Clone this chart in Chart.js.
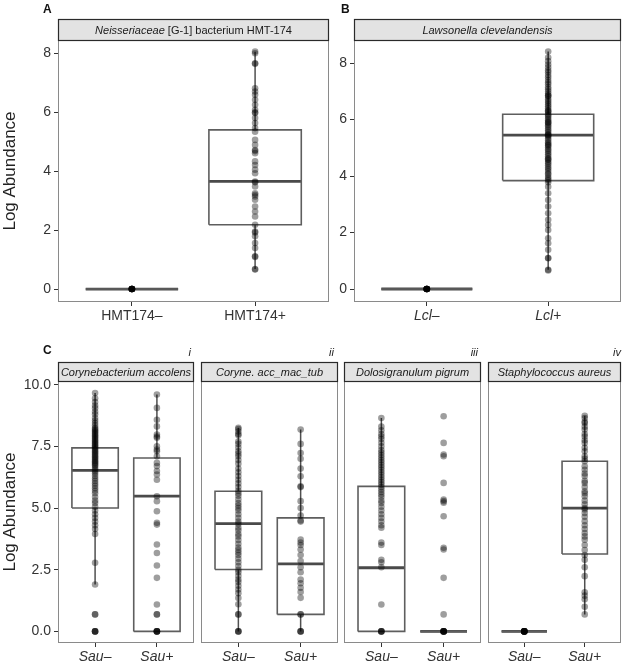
<!DOCTYPE html>
<html>
<head>
<meta charset="utf-8">
<script src="https://cdn.jsdelivr.net/npm/chart.js@4.4.0/dist/chart.umd.min.js"></script>
<style>
  body { margin: 0; background: #fff; }
  #page { position: relative; width: 625px; height: 664px; overflow: hidden; font-family: "Liberation Sans", Arial, sans-serif; }
  #page canvas { position: absolute; left: 0; top: 0; }
  .tag { position: absolute; font-weight: bold; font-size: 12px; line-height: 12px; color: #111; }
  .num { position: absolute; font-style: italic; font-size: 11px; line-height: 11px; color: #222; text-align: right; }
</style>
</head>
<body>
<div id="page">
  <canvas id="cA" width="625" height="664"></canvas>
  <canvas id="cB" width="625" height="664"></canvas>
  <canvas id="c1" width="625" height="664"></canvas>
  <canvas id="c2" width="625" height="664"></canvas>
  <canvas id="c3" width="625" height="664"></canvas>
  <canvas id="c4" width="625" height="664"></canvas>
  <div class="tag" style="left:43px;top:3px">A</div>
  <div class="tag" style="left:341px;top:3px">B</div>
  <div class="tag" style="left:43px;top:344px">C</div>
  <div class="num" style="right:434px;top:347px">i</div>
  <div class="num" style="right:291px;top:347px">ii</div>
  <div class="num" style="right:147px;top:347px">iii</div>
  <div class="num" style="right:4px;top:347px">iv</div>
</div>
<script>
// ---- data ----
// box stats are [lower whisker, q1, median, q3, upper whisker]
const abTicks = [0, 2, 4, 6, 8];
const cTicks = [0, 2.5, 5, 7.5, 10];

const hmtNames = ['HMT174–', 'HMT174+'];
const hmtNeg = [0, 0, 0, 0, 0, 0, 0, 0, 0, 0];
const hmtPos = [8.06, 8.0, 7.66, 7.64, 6.81, 6.7, 6.59, 6.42, 6.25, 6.08, 6.0, 5.97, 5.8, 5.63, 5.46, 5.34,
  5.06, 4.89, 4.72, 4.68, 4.61, 4.33, 4.21, 4.05, 3.93, 3.65, 3.62, 3.48, 3.25, 3.2, 3.14, 3.03, 2.8,
  2.63, 2.46, 2.18, 1.95, 1.92, 1.79, 1.56, 1.39, 1.11, 1.09, 0.66, 0.68];
const hmtBoxes = [[0, 0, 0, 0, 0], [0.68, 2.18, 3.65, 5.4, 8.05]];

const lclNames = ['Lcl–', 'Lcl+'];
const lclNeg = [0, 0, 0, 0, 0, 0, 0, 0, 0, 0];
const lclPos = [0.66, 0.68, 1.09, 1.1, 1.39, 1.62, 1.8, 2.09, 2.27, 2.45, 2.68, 2.92, 3.15, 3.39, 3.62,
  3.78, 3.85, 3.9, 3.97, 4.05, 4.1, 4.18, 4.25, 4.3, 4.38, 4.45, 4.5, 4.57, 4.6, 4.63, 4.7, 4.77, 4.83,
  4.9, 4.95, 5.02, 5.08, 5.1, 5.15, 5.2, 5.27, 5.33, 5.4, 5.45, 5.45, 5.5, 5.56, 5.62, 5.68, 5.75, 5.8,
  5.86, 5.9, 5.92, 5.98, 6.03, 6.1, 6.15, 6.2, 6.27, 6.3, 6.33, 6.4, 6.47, 6.53, 6.6, 6.66, 6.72, 6.8,
  6.85, 6.85, 6.92, 7.0, 7.08, 7.15, 7.25, 7.32, 7.4, 7.5, 7.58, 7.68, 7.75, 7.85, 7.95, 8.07, 8.2, 8.41];
const lclBoxes = [[0, 0, 0, 0, 0], [0.68, 3.84, 5.45, 6.19, 8.41]];

const sauNames = ['Sau–', 'Sau+'];

const accNeg = [9.66, 9.45, 9.3, 9.15, 9.05, 8.9, 8.8, 8.65, 8.55, 8.45, 8.35, 8.25, 8.2, 8.15, 8.1, 8.05,
  8.0, 7.95, 7.9, 7.85, 7.8, 7.75, 7.7, 7.65, 7.6, 7.55, 7.5, 7.45, 7.4, 7.35, 7.3, 7.25, 7.2, 7.15, 7.1,
  7.05, 7.0, 6.95, 6.9, 6.85, 6.8, 6.75, 6.7, 6.62, 6.55, 6.48, 6.4, 6.3, 6.2, 6.1, 6.0, 5.9, 5.8, 5.7,
  5.6, 5.45, 5.3, 5.2, 5.05, 4.9, 4.75, 4.6, 4.45, 4.3, 4.15, 3.95, 2.78, 1.9, 0.69, 0.69, 0, 0, 0, 0];
const accPos = [9.6, 9.06, 8.58, 8.31, 7.98, 7.9, 7.85, 7.5, 7.37, 7.3, 7.1, 6.83, 6.7, 6.5, 6.36, 6.15,
  5.48, 5.28, 4.87, 4.4, 4.33, 3.52, 3.18, 2.67, 2.17, 1.09, 0.69, 0.69, 0, 0, 0, 0, 0];
const accBoxes = [[1.9, 5.0, 6.53, 7.44, 9.66], [0, 0, 5.48, 7.03, 9.6]];

const amtNeg = [8.25, 8.2, 8.1, 8.0, 7.95, 7.7, 7.6, 7.45, 7.3, 7.2, 7.1, 6.95, 6.8, 6.6, 6.45, 6.3, 6.15,
  6.0, 5.85, 5.7, 5.6, 5.5, 5.35, 5.2, 5.1, 5.0, 4.9, 4.75, 4.6, 4.45, 4.35, 4.2, 4.1, 3.95, 3.85, 3.7,
  3.55, 3.4, 3.3, 3.2, 3.1, 2.95, 2.8, 2.65, 2.5, 2.4, 2.25, 2.1, 2.0, 1.85, 1.7, 1.55, 1.35, 1.1, 0.69,
  0.69, 0, 0, 0];
const amtPos = [8.18, 7.6, 7.23, 7.0, 6.6, 6.29, 5.88, 5.85, 5.28, 5.0, 4.7, 4.5, 4.45, 3.72, 3.6, 3.5,
  3.32, 3.1, 2.85, 2.6, 2.4, 2.1, 1.95, 1.77, 1.6, 1.36, 0.69, 0.69, 0, 0, 0];
const amtBoxes = [[0, 2.51, 4.37, 5.68, 8.25], [0, 0.69, 2.74, 4.6, 8.18]];

const dpiNeg = [8.65, 8.3, 8.15, 8.0, 7.9, 7.8, 7.65, 7.5, 7.35, 7.25, 7.15, 7.05, 6.95, 6.85, 6.75, 6.65,
  6.55, 6.45, 6.35, 6.25, 6.15, 6.05, 5.95, 5.85, 5.75, 5.65, 5.55, 5.45, 5.3, 5.2, 5.05, 4.9, 4.75, 4.6,
  4.45, 4.3, 4.2, 3.6, 3.5, 2.9, 2.8, 2.6, 1.09, 0, 0, 0, 0];
const dpiPos = [8.72, 7.64, 7.17, 7.1, 6.02, 5.34, 5.28, 5.22, 4.67, 3.39, 3.32, 2.17, 0.69, 0, 0, 0, 0, 0, 0, 0];
const dpiBoxes = [[0, 0, 2.58, 5.88, 8.65], [0, 0, 0, 0, 0]];

const sauNeg = [0, 0, 0, 0, 0, 0, 0, 0, 0, 0];
const sauPos = [8.74, 8.65, 8.5, 8.45, 8.3, 8.18, 8.0, 7.9, 7.75, 7.64, 7.44, 7.3, 7.1, 7.0, 6.9, 6.69,
  6.55, 6.4, 6.3, 6.1, 6.02, 5.85, 5.68, 5.6, 5.48, 5.3, 5.15, 5.0, 4.94, 4.8, 4.65, 4.47, 4.3, 4.15,
  3.99, 3.85, 3.72, 3.5, 3.3, 3.1, 2.9, 2.6, 2.24, 1.59, 1.45, 1.3, 1.0, 0.69];
const sauBoxes = [[0, 0, 0, 0, 0], [0.69, 3.14, 5.0, 6.9, 8.74]];

// ---- look ----
const FONT = '"Liberation Sans", Arial, Helvetica, sans-serif';
const HW = 0.375;        // half box width in category units
const INK = '#333';

const panels = [
  { id: 'cA', area: [58, 40, 329, 302], stripH: 21, strip: [['Neisseriaceae', true], [' [G-1] bacterium HMT-174', false]],
    names: hmtNames, italic: false, groups: [hmtNeg, hmtPos], boxes: hmtBoxes,
    yMin: -0.44, yMax: 8.45, ticks: abTicks, dec: 0, yw: 58, title: true },
  { id: 'cB', area: [354, 40, 622, 302], stripH: 21, strip: [['Lawsonella clevelandensis', true]],
    names: lclNames, italic: true, groups: [lclNeg, lclPos], boxes: lclBoxes,
    yMin: -0.46, yMax: 8.82, ticks: abTicks, dec: 0, yw: 24, title: false },
  { id: 'c1', area: [58, 381, 194, 643], stripH: 19, strip: [['Corynebacterium accolens', true]],
    names: sauNames, italic: true, groups: [accNeg, accPos], boxes: accBoxes,
    yMin: -0.47, yMax: 10.15, ticks: cTicks, dec: 1, yw: 58, title: true },
  { id: 'c2', area: [201, 381, 338, 643], stripH: 19, strip: [['Coryne. acc_mac_tub', true]],
    names: sauNames, italic: true, groups: [amtNeg, amtPos], boxes: amtBoxes,
    yMin: -0.47, yMax: 10.15, ticks: cTicks, dec: 1, yw: 0, title: false },
  { id: 'c3', area: [344, 381, 481, 643], stripH: 19, strip: [['Dolosigranulum pigrum', true]],
    names: sauNames, italic: true, groups: [dpiNeg, dpiPos], boxes: dpiBoxes,
    yMin: -0.47, yMax: 10.15, ticks: cTicks, dec: 1, yw: 0, title: false },
  { id: 'c4', area: [488, 381, 622, 643], stripH: 19, strip: [['Staphylococcus aureus', true]],
    names: sauNames, italic: true, groups: [sauNeg, sauPos], boxes: sauBoxes,
    yMin: -0.47, yMax: 10.15, ticks: cTicks, dec: 1, yw: 0, title: false }
];

const framePlugin = {
  id: 'frame',
  afterDraw(chart, args, opts) {
    const { ctx, chartArea: a } = chart;
    ctx.save();
    ctx.strokeStyle = '#8a8a8a';
    ctx.lineWidth = 1;
    ctx.strokeRect(a.left + 0.5, a.top + 0.5, a.width - 1, a.height - 1);
    const h = opts.stripH;
    ctx.fillStyle = '#e3e3e3';
    ctx.fillRect(a.left, a.top - h, a.width, h);
    ctx.strokeStyle = '#2a2a2a';
    ctx.lineWidth = 1.2;
    ctx.strokeRect(a.left + 0.5, a.top - h + 0.5, a.width - 1, h);
    // strip label, possibly mixed italic/upright
    const fontOf = it => (it ? 'italic ' : '') + '11px ' + FONT;
    let total = 0;
    opts.strip.forEach(([t, it]) => { ctx.font = fontOf(it); total += ctx.measureText(t).width; });
    let x = (a.left + a.right) / 2 - total / 2;
    ctx.fillStyle = '#1a1a1a';
    ctx.textBaseline = 'middle';
    ctx.textAlign = 'left';
    opts.strip.forEach(([t, it]) => {
      ctx.font = fontOf(it);
      ctx.fillText(t, x, a.top - h / 2 + 1);
      x += ctx.measureText(t).width;
    });
    ctx.restore();
  }
};

function lineSet(data, width, color) {
  return { type: 'line', data, borderColor: color, borderWidth: width, pointRadius: 0,
    tension: 0, fill: false, spanGaps: false, order: 1 };
}

function buildDatasets(p) {
  const sets = [];
  p.groups.forEach((vals, i) => {
    sets.push({ type: 'scatter', data: vals.map(v => ({ x: i + 1, y: v })), pointRadius: 3.3,
      pointBackgroundColor: 'rgba(0,0,0,0.38)', pointBorderWidth: 0, order: 0 });
  });
  const rect = [], med = [], whisk = [];
  p.boxes.forEach((b, i) => {
    const x = i + 1;
    const [lo, q1, md, q3, hi] = b;
    rect.push({ x: x - HW, y: q1 }, { x: x + HW, y: q1 }, { x: x + HW, y: q3 }, { x: x - HW, y: q3 },
      { x: x - HW, y: q1 }, { x: x, y: null });
    med.push({ x: x - HW, y: md }, { x: x + HW, y: md }, { x: x, y: null });
    whisk.push({ x: x, y: lo }, { x: x, y: q1 }, { x: x, y: null }, { x: x, y: q3 }, { x: x, y: hi }, { x: x, y: null });
  });
  sets.push(lineSet(whisk, 1.5, '#505050'));
  sets.push(lineSet(rect, 1.6, '#5e5e5e'));
  sets.push(lineSet(med, 2.8, '#4a4a4a'));
  return sets;
}

const XH = 20;

panels.forEach(p => {
  const [L, T, R, B] = p.area;
  const grid = { drawOnChartArea: false, drawTicks: true, tickLength: 4, color: INK, lineWidth: 1 };
  new Chart(document.getElementById(p.id), {
    type: 'scatter',
    data: { datasets: buildDatasets(p) },
    options: {
      responsive: false,
      animation: false,
      events: [],
      layout: { padding: { left: L - p.yw, top: T, right: 625 - R, bottom: 664 - B - XH } },
      plugins: { legend: { display: false }, tooltip: { enabled: false }, frame: { stripH: p.stripH, strip: p.strip } },
      scales: {
        x: {
          type: 'linear', min: 0.4, max: 2.6,
          afterBuildTicks: s => { s.ticks = [{ value: 1 }, { value: 2 }]; },
          afterFit: s => { s.height = XH; },
          grid, border: { display: false },
          ticks: {
            autoSkip: false, maxRotation: 0, padding: 2, color: INK,
            font: { family: FONT, size: 14, style: p.italic ? 'italic' : 'normal' },
            callback: v => p.names[Math.round(v) - 1]
          }
        },
        y: {
          type: 'linear', min: p.yMin, max: p.yMax, display: p.yw > 0,
          afterBuildTicks: s => { s.ticks = p.ticks.map(v => ({ value: v })); },
          afterFit: s => { s.width = p.yw; },
          grid, border: { display: false },
          title: { display: p.title, text: 'Log Abundance', color: '#222', padding: 0,
            font: { family: FONT, size: 17 } },
          ticks: { padding: 3, color: INK, font: { family: FONT, size: 14 },
            callback: v => v.toFixed(p.dec) }
        }
      }
    },
    plugins: [framePlugin]
  });
});
</script>
</body>
</html>
